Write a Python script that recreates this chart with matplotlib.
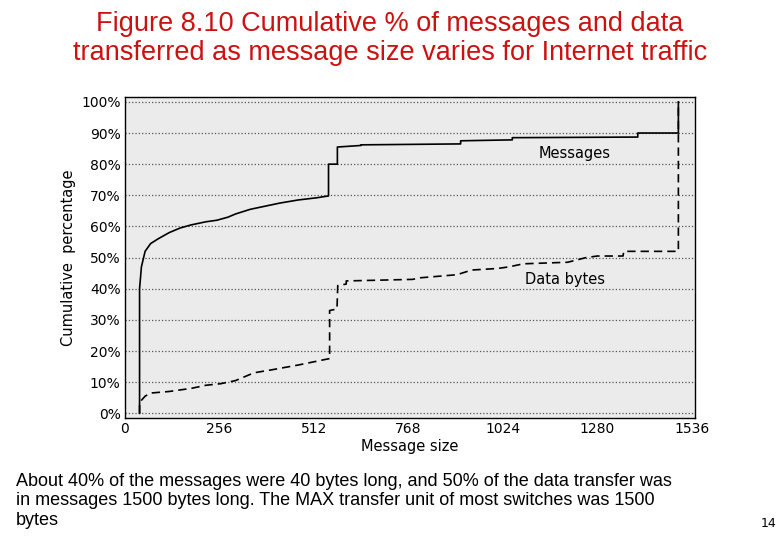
import matplotlib
matplotlib.use("Agg")
import matplotlib.pyplot as plt

msg_x = [40, 40, 45, 55, 70, 90, 120, 150, 180, 220, 250, 280, 300, 340, 380, 420, 470, 520, 552, 552, 576, 576, 640, 640, 910, 910, 1050, 1050, 1390, 1390, 1500, 1500]
msg_y = [0, 40, 47, 52, 54.5, 56, 58, 59.5, 60.5, 61.5, 62, 63, 64, 65.5, 66.5, 67.5, 68.5, 69.2, 69.8, 80, 80, 85.5, 86, 86.2, 86.5, 87.5, 87.8, 88.5, 88.7, 90, 90, 100]

byt_x = [40, 40, 55, 70, 120, 180, 220, 260, 300, 350, 400, 470, 552, 555, 555, 575, 577, 600, 600, 780, 800, 900, 940, 1010, 1040, 1080, 1200, 1250, 1280, 1350, 1352, 1500, 1500, 1500]
byt_y = [0, 3.5, 5.5, 6.5, 7, 8, 9, 9.5, 10.5, 13, 14, 15.5, 17.5, 17.5, 33, 33.5, 41, 41.5, 42.5, 43, 43.5, 44.5, 46, 46.5, 47, 48, 48.5, 50, 50.5, 50.5, 52, 52, 90, 100]

xticks = [0, 256, 512, 768, 1024, 1280, 1536]
yticks = list(range(0, 101, 10))

fig = plt.figure(figsize=(7.8, 5.4), dpi=100)
fig.patch.set_facecolor("white")
ax = fig.add_axes([0.16, 0.226, 0.731, 0.594])
ax.set_facecolor("#ebebeb")
ax.plot(msg_x, msg_y, color="black", lw=1.2)
ax.plot(byt_x, byt_y, color="black", lw=1.2, ls=(0, (5, 3)))
ax.set_xlim(0, 1545)
ax.set_ylim(-1.5, 101.5)
ax.set_xticks(xticks)
ax.set_xticklabels([str(v) for v in xticks], fontsize=10)
ax.set_yticks(yticks)
ax.set_yticklabels([f"{v}%" for v in yticks], fontsize=10)
ax.tick_params(length=0, pad=3)
ax.yaxis.grid(True, ls=":", color="#555555", lw=0.9)
ax.set_axisbelow(True)
for s in ax.spines.values():
    s.set_linewidth(1.0)
ax.set_xlabel("Message size", fontsize=10.5, labelpad=2)
ax.set_ylabel("Cumulative  percentage", fontsize=10.5, labelpad=4)
ax.text(1120, 82, "Messages", fontsize=10.5)
ax.text(1085, 41.5, "Data bytes", fontsize=10.5)

fig.text(0.5, 0.98, "Figure 8.10 Cumulative % of messages and data\ntransferred as message size varies for Internet traffic",
         ha="center", va="top", fontsize=19.5, color="#cc1111", family="Liberation Sans", linespacing=1.15)
fig.text(0.02, 0.125, "About 40% of the messages were 40 bytes long, and 50% of the data transfer was\nin messages 1500 bytes long. The MAX transfer unit of most switches was 1500\nbytes",
         ha="left", va="top", fontsize=13, family="Liberation Sans", linespacing=1.2)
fig.text(0.985, 0.03, "14", fontsize=9, ha="center", va="center")
fig.savefig("out.png", dpi=100)
